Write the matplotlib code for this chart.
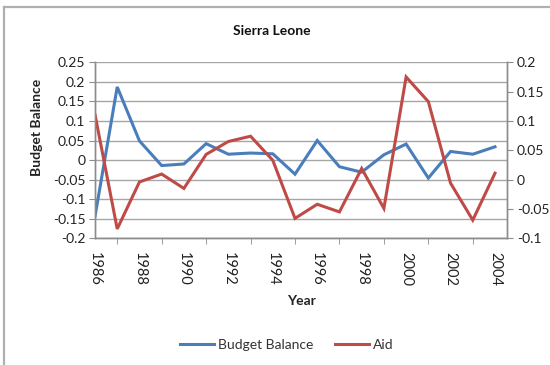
import matplotlib
matplotlib.use("Agg")
import matplotlib.pyplot as plt
from matplotlib.lines import Line2D

plt.rcParams['font.family'] = ['Lato', 'DejaVu Sans']

years = list(range(1986, 2005))
budget_balance = [-0.144, 0.187, 0.049, -0.014, -0.010, 0.042, 0.015, 0.018, 0.016,
                  -0.036, 0.050, -0.017, -0.031, 0.0135, 0.041, -0.046, 0.022, 0.015, 0.034]
aid = [0.111, -0.084, -0.004, 0.0095, -0.015, 0.043, 0.065, 0.074, 0.033,
       -0.066, -0.042, -0.055, 0.019, -0.049, 0.175, 0.133, -0.006, -0.069, 0.011]

left_ticks = [0.25, 0.2, 0.15, 0.1, 0.05, 0, -0.05, -0.1, -0.15, -0.2]
right_ticks = [0.2, 0.15, 0.1, 0.05, 0, -0.05, -0.1]
year_labels = list(range(1986, 2005, 2))

blue = '#4A7EBB'
red = '#BE4B48'
grid_gray = '#A6A6A6'
axis_gray = '#8C8C8C'

fig = plt.figure(figsize=(5.5, 3.65), dpi=100)
ax = fig.add_axes([95 / 550, 1 - 238.3 / 365, (507 - 95) / 550, (238.3 - 62.3) / 365])
ax2 = ax.twinx()

ax.plot(years, budget_balance, color=blue, lw=2.2, solid_joinstyle='miter')
ax2.plot(years, aid, color=red, lw=2.2, solid_joinstyle='miter')

ax.set_xlim(1986, 2004.54)
ax.set_ylim(-0.2, 0.25)
ax2.set_ylim(-0.1, 0.2)

def fmt(v):
    return f"{v:g}"

ax.set_yticks(left_ticks)
ax.set_yticklabels([fmt(v) for v in left_ticks])
ax2.set_yticks(right_ticks)
ax2.set_yticklabels([fmt(v) for v in right_ticks])

ax.set_xticks(year_labels)
ax.set_xticklabels([str(y) for y in year_labels], rotation=-90)
ax.set_xticks(list(range(1987, 2004, 2)) + [2004], minor=True)

ax.grid(axis='y', color=grid_gray, lw=1.0)
ax.set_axisbelow(True)

for a in (ax, ax2):
    a.spines['top'].set_visible(False)
    for side in ('left', 'right', 'bottom'):
        a.spines[side].set_color(axis_gray)
        a.spines[side].set_linewidth(1.0)

ax.tick_params(axis='y', which='both', direction='out', length=4, color=axis_gray,
               labelsize=10, pad=3, labelcolor='#222222')
ax2.tick_params(axis='y', which='both', direction='out', length=4, color=axis_gray,
                labelsize=10, pad=3, labelcolor='#222222')
ax.tick_params(axis='x', which='major', direction='out', length=0, labelsize=10.5,
               pad=10, labelcolor='#222222')
ax.tick_params(axis='x', which='minor', direction='out', length=4, color=axis_gray)

ax.set_ylabel('Budget Balance', fontsize=10, fontweight='bold', color='#222222')
ax.yaxis.set_label_coords(-0.126, 0.63)
ax.set_xlabel('Year', fontsize=10, fontweight='bold', color='#222222', labelpad=6)

fig.text(272 / 550, 1 - 31 / 365, 'Sierra Leone', ha='center', va='center',
         fontsize=10, fontweight='bold', color='#111111')

handles = [Line2D([], [], color=blue, lw=2.2), Line2D([], [], color=red, lw=2.2)]
fig.legend(handles, ['Budget Balance', 'Aid'], loc='center', ncol=2,
           bbox_to_anchor=(287 / 550, 1 - 345 / 365), frameon=False, fontsize=10,
           handlelength=2.4, handletextpad=0.3, columnspacing=1.6,
           labelcolor='#333333')

# outer chart border (left and top edges)
fig.add_artist(Line2D([4 / 550, 4 / 550], [0, 1 - 7 / 365], transform=fig.transFigure,
                      color='#B0B0B0', lw=1.6))
fig.add_artist(Line2D([4 / 550, 1], [1 - 7 / 365, 1 - 7 / 365], transform=fig.transFigure,
                      color='#B0B0B0', lw=1.6))

fig.savefig('out.png', dpi=100)
